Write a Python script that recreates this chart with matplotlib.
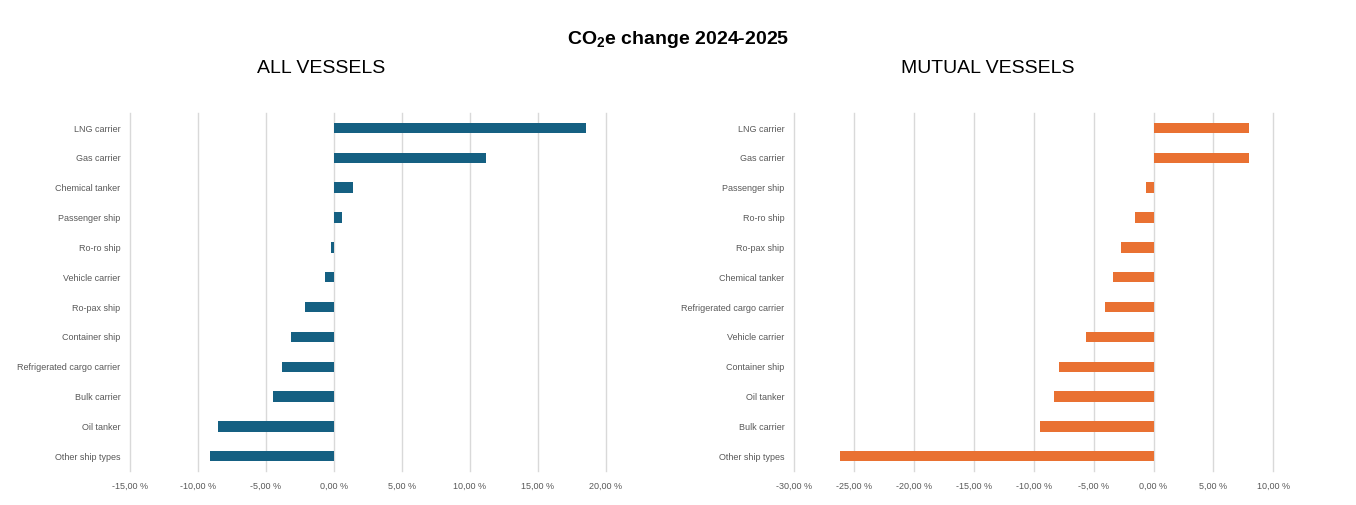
import numpy as np
import matplotlib
matplotlib.use("Agg")
from matplotlib import pyplot as plt
from matplotlib.ticker import FuncFormatter

plt.rcParams['font.family'] = ['Liberation Sans', 'DejaVu Sans']
plt.rcParams['mathtext.fontset'] = 'custom'
plt.rcParams['mathtext.rm'] = 'Liberation Sans:bold'
plt.rcParams['mathtext.default'] = 'rm'

# data (percent change, top to bottom)
all_types = ["LNG carrier", "Gas carrier", "Chemical tanker", "Passenger ship",
             "Ro-ro ship", "Vehicle carrier", "Ro-pax ship", "Container ship",
             "Refrigerated cargo carrier", "Bulk carrier", "Oil tanker",
             "Other ship types"]
all_change = [18.5, 11.15, 1.4, 0.6, -0.2, -0.7, -2.1, -3.2, -3.85, -4.5, -8.5, -9.1]

mutual_types = ["LNG carrier", "Gas carrier", "Passenger ship", "Ro-ro ship",
                "Ro-pax ship", "Chemical tanker", "Refrigerated cargo carrier",
                "Vehicle carrier", "Container ship", "Oil tanker", "Bulk carrier",
                "Other ship types"]
mutual_change = [8.0, 8.0, -0.65, -1.55, -2.7, -3.4, -4.05, -5.6, -7.9, -8.3, -9.45, -26.2]

all_ticks = [-15, -10, -5, 0, 5, 10, 15, 20]
mutual_ticks = [-30, -25, -20, -15, -10, -5, 0, 5, 10]

BLUE = "#156082"
ORANGE = "#E97132"
GREY = "#595959"


def pct(v, pos=None):
    return ("%.2f %%" % v).replace(".", ",")


def draw_panel(ax, cats, vals, ticks, color):
    y = np.arange(len(cats))
    ax.barh(y, vals, height=0.35, color=color, zorder=3)
    ax.set_yticks(y)
    ax.set_yticklabels(cats)
    ax.set_ylim(len(cats) - 0.5, -0.5)
    ax.set_xticks(ticks)
    ax.set_xlim(ticks[0], ticks[-1])
    ax.xaxis.set_major_formatter(FuncFormatter(pct))
    ax.grid(axis="x", color="#D9D9D9", linewidth=1.0, zorder=0)
    for g in ax.get_xgridlines():
        g.set_clip_on(False)
    for s in ax.spines.values():
        s.set_visible(False)
    ax.tick_params(axis="both", length=0, colors=GREY, labelsize=6.5)
    ax.tick_params(axis="y", pad=7)
    ax.tick_params(axis="x", pad=8)


fig = plt.figure(figsize=(13.56, 5.05), dpi=100)
ax1 = fig.add_axes([0.0959, 0.067, 0.351, 0.709])
ax2 = fig.add_axes([0.5858, 0.067, 0.3532, 0.709])

draw_panel(ax1, all_types, all_change, all_ticks, BLUE)
draw_panel(ax2, mutual_types, mutual_change, mutual_ticks, ORANGE)

fig.text(0.5, 0.922, r"CO$_2$e change 2024-2025", ha="center", va="center",
         fontsize=14, fontweight="bold")
fig.text(0.2367, 0.865, "ALL VESSELS", ha="center", va="center", fontsize=14)
fig.text(0.7286, 0.865, "MUTUAL VESSELS", ha="center", va="center", fontsize=14)

fig.savefig("out.png", dpi=100, facecolor="white")
